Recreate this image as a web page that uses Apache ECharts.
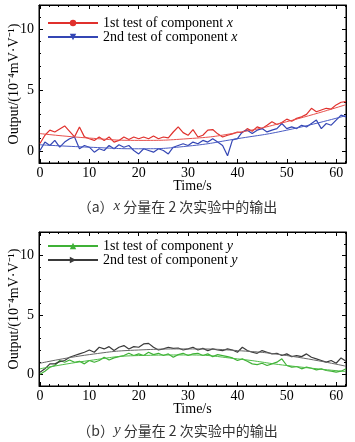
<!DOCTYPE html>
<html>
<head>
<meta charset="utf-8">
<script src="https://cdn.jsdelivr.net/npm/echarts@6/dist/echarts.min.js"></script>
<style>
  html, body { margin: 0; padding: 0; background: #fff; }
  #chart { width: 355px; height: 442px; }
</style>
</head>
<body>
<div id="chart"></div>
<script>
// time axis (s), one reading per second
var times = [];
for (var s = 0; s <= 62; s++) times.push(s);

// component x
var xTest1 = [0.6, 1.28, 1.7, 1.55, 1.8, 2.05, 1.6, 1.15, 1.97, 1.15, 1.0, 0.86, 1.14, 0.86, 1.14, 0.72, 0.86, 1.14, 0.94, 1.14,
  1.0, 1.14, 1.0, 1.22, 1.0, 1.14, 1.06, 1.55, 1.97, 1.5, 1.28, 1.75, 1.14, 1.28, 1.7, 1.75, 1.4, 1.14, 1.28, 1.4,
  1.55, 1.5, 1.83, 1.61, 1.97, 1.83, 2.1, 2.39, 2.17, 2.33, 2.61, 2.44, 2.67, 2.8, 3.0, 3.5, 3.22, 3.36, 3.5, 3.44,
  3.78, 4.0, 4.05];
var xTest2 = [0.03, 0.72, 0.44, 0.86, 0.3, 0.72, 1.0, 1.14, 0.17, 0.44, 0.3, -0.11, 0.17, 0.03, 0.44, 0.17, 0.5, 0.3, 0.44, 0.03,
  -0.25, 0.17, 0.03, -0.11, 0.17, 0.03, -0.25, 0.3, 0.44, 0.58, 0.44, 0.72, 0.58, 0.86, 0.72, 1.0, 0.72, 0.44, -0.4, 0.9,
  1.0, 1.56, 1.7, 1.42, 1.7, 1.83, 1.56, 1.7, 1.83, 2.25, 1.83, 1.97, 1.83, 2.11, 1.97, 2.25, 2.53, 1.83, 2.25, 2.11,
  2.53, 2.94, 2.8];

// component y
var yTest1 = [0.0, 0.25, 0.59, 0.73, 1.15, 1.0, 1.2, 1.0, 1.09, 0.87, 1.15, 1.0, 1.15, 1.43, 1.2, 1.37, 1.48, 1.57, 1.76, 1.57,
  1.71, 1.57, 1.85, 1.65, 1.76, 1.57, 1.71, 1.43, 1.65, 1.76, 1.57, 1.71, 1.76, 1.57, 1.71, 1.48, 1.65, 1.57, 1.48, 1.37,
  1.15, 1.29, 1.09, 0.87, 0.81, 0.92, 0.73, 0.87, 1.01, 1.29, 0.73, 0.59, 0.64, 0.45, 0.59, 0.5, 0.36, 0.45, 0.31, 0.25,
  0.17, 0.25, 0.45];
var yTest2 = [0.17, 0.45, 0.87, 0.87, 1.06, 1.15, 1.43, 1.57, 1.71, 1.85, 2.04, 1.85, 2.27, 2.13, 2.32, 1.99, 2.27, 2.41, 2.13, 2.32,
  2.27, 2.55, 2.6, 2.27, 2.04, 2.13, 2.27, 2.18, 2.21, 2.04, 2.13, 2.27, 2.04, 2.18, 1.99, 2.13, 2.04, 1.99, 2.13, 2.04,
  1.85, 2.27, 1.99, 1.85, 1.76, 1.99, 1.85, 1.71, 1.76, 1.57, 1.71, 1.48, 1.57, 1.48, 1.71, 1.43, 1.29, 1.15, 1.01, 1.15,
  0.92, 1.37, 1.09];

// fitted trend curves
var fitTimes = [0, 10, 20, 30, 40, 50, 62];
var xFit1 = [1.42, 1.05, 0.86, 1.0, 1.5, 2.4, 3.8];
var xFit2 = [0.5, 0.3, 0.17, 0.39, 1.0, 1.7, 2.9];
var yFit1 = [0.45, 1.15, 1.57, 1.62, 1.29, 0.73, 0.22];
var yFit2 = [0.92, 1.65, 2.04, 2.13, 1.99, 1.57, 0.67];

var xTicks = [0, 10, 20, 30, 40, 50, 60];
var yTicks = [0, 5, 10];
var yMinorTicks = [-1, 1, 2, 3, 4, 6, 7, 8, 9, 11, 12];

var FONT = 'Liberation Serif, serif';

function pairs(t, v) {
  return t.map(function (x, i) { return [x, v[i]]; });
}

function xAxisFor(grid, pos) {
  var top = pos === 'top';
  return {
    type: 'value', gridIndex: grid, min: -0.2, max: 62, interval: 10, position: pos,
    axisLine: { show: true, onZero: false, lineStyle: { color: '#000', width: 1 } },
    axisTick: { show: true, inside: true, length: 4, lineStyle: { color: '#000' }, customValues: xTicks },
    minorTick: { show: true, splitNumber: 5, length: 2, lineStyle: { color: '#000' } },
    splitLine: { show: false },
    axisLabel: {
      show: !top, color: '#000', fontFamily: FONT, fontSize: 14, margin: 3,
      customValues: xTicks
    },
    name: top ? '' : 'Time/s', nameLocation: 'middle', nameGap: 16, nameMoveOverlap: false,
    nameTextStyle: { color: '#000', fontFamily: FONT, fontSize: 14 }
  };
}

function yAxisFor(grid, pos) {
  var right = pos === 'right';
  return {
    type: 'value', gridIndex: grid, min: -1, max: 12, position: pos,
    axisLine: { show: true, onZero: false, lineStyle: { color: '#000', width: 1 } },
    axisTick: { show: true, inside: true, length: 4, lineStyle: { color: '#000' }, customValues: yTicks },
    minorTick: { show: false },
    splitLine: { show: false },
    axisLabel: { show: !right, color: '#000', fontFamily: FONT, fontSize: 14, margin: 5, customValues: yTicks },
    name: right ? '' : 'Output/(10⁻⁴mV·V⁻¹)', nameLocation: 'middle', nameGap: 18, nameMoveOverlap: false,
    nameTextStyle: { color: '#000', fontFamily: FONT, fontSize: 14 }
  };
}

// extra axis that only carries the short minor ticks of the y scale
function yMinorAxis(grid, pos) {
  return {
    type: 'value', gridIndex: grid, min: -1, max: 12, position: pos,
    axisLine: { show: false, onZero: false },
    axisTick: { show: true, inside: true, length: 2, lineStyle: { color: '#000' }, customValues: yMinorTicks },
    splitLine: { show: false },
    axisLabel: { show: false }
  };
}

function dataLine(name, xi, yi, v, color, symbol) {
  return {
    name: name, type: 'line', xAxisIndex: xi, yAxisIndex: yi,
    data: pairs(times, v), showSymbol: false, symbol: symbol, symbolSize: 5,
    lineStyle: { color: color, width: 1.2 }, itemStyle: { color: color },
    animation: false, z: 3
  };
}

function fitLine(xi, yi, v, color) {
  return {
    type: 'line', xAxisIndex: xi, yAxisIndex: yi, smooth: true,
    data: pairs(fitTimes, v), showSymbol: false,
    lineStyle: { color: color, width: 1 }, animation: false, z: 4
  };
}

var legendText = {
  color: '#000', fontFamily: FONT, fontSize: 14, lineHeight: 14,
  rich: { i: { fontFamily: FONT, fontStyle: 'italic', fontSize: 14 } }
};

function legendFor(top, names) {
  return {
    orient: 'vertical', left: 47, top: top, padding: 0, itemWidth: 50, itemHeight: 8, itemGap: 0,
    data: names,
    formatter: function (n) { return n.replace(/ (x|y)$/, ' {i|$1}'); },
    textStyle: legendText
  };
}

var gridBase = { left: 39, width: 307, show: true, borderColor: '#000', borderWidth: 1,
  containLabel: false, outerBoundsMode: 'none' };

var chart = echarts.init(document.getElementById('chart'));
chart.setOption({
  backgroundColor: '#fff',
  animation: false,
  grid: [
    Object.assign({ top: 5, height: 158 }, gridBase),
    Object.assign({ top: 232, height: 154 }, gridBase)
  ],
  xAxis: [xAxisFor(0, 'bottom'), xAxisFor(0, 'top'), xAxisFor(1, 'bottom'), xAxisFor(1, 'top')],
  yAxis: [
    yAxisFor(0, 'left'), yAxisFor(0, 'right'), yMinorAxis(0, 'left'), yMinorAxis(0, 'right'),
    yAxisFor(1, 'left'), yAxisFor(1, 'right'), yMinorAxis(1, 'left'), yMinorAxis(1, 'right')
  ],
  legend: [
    legendFor(16, ['1st test of component x', '2nd test of component x']),
    legendFor(239, ['1st test of component y', '2nd test of component y'])
  ],
  series: [
    dataLine('1st test of component x', 0, 0, xTest1, '#e0302c', 'circle'),
    dataLine('2nd test of component x', 0, 0, xTest2, '#3446b4', 'path://M0,0L10,0L5,9Z'),
    fitLine(0, 0, xFit1, '#e8514e'),
    fitLine(0, 0, xFit2, '#4a5cc4'),
    dataLine('1st test of component y', 2, 4, yTest1, '#3fb136', 'triangle'),
    dataLine('2nd test of component y', 2, 4, yTest2, '#3a3a3a', 'path://M0,0L9,5L0,10Z'),
    fitLine(2, 4, yFit1, '#4cbc44'),
    fitLine(2, 4, yFit2, '#666')
  ],
  graphic: [
    {
      type: 'text', left: 'center', top: 199,
      style: {
        text: '（a）{i|x} 分量在 2 次实验中的输出',
        font: '14px "Noto Sans CJK SC", sans-serif', fill: '#333',
        rich: { i: { fontFamily: FONT, fontStyle: 'italic', fontSize: 15, fill: '#333' } }
      }
    },
    {
      type: 'text', left: 'center', top: 423,
      style: {
        text: '（b）{i|y} 分量在 2 次实验中的输出',
        font: '14px "Noto Sans CJK SC", sans-serif', fill: '#333',
        rich: { i: { fontFamily: FONT, fontStyle: 'italic', fontSize: 15, fill: '#333' } }
      }
    }
  ]
});
window.addEventListener('resize', function () {
  chart.resize();
});
</script>
</body>
</html>
